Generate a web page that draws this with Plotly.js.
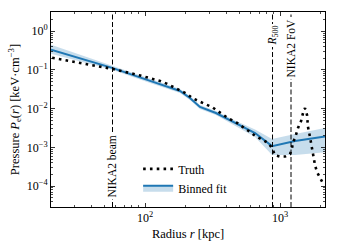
<!DOCTYPE html>
<html><head><meta charset="utf-8">
<script src="https://cdn.plot.ly/plotly-3.0.1.min.js"></script>
<style>html,body{margin:0;padding:0;background:#fff}#plot{width:343px;height:245px}</style>
</head><body><div id="plot"></div>
<script>
// Truth profile (kpc, keV cm^-3)
const truthRadius = [20.5, 33, 57, 92, 113, 129, 146, 161, 182, 205, 223, 247, 278, 313, 347, 412, 480, 532, 600, 653, 736, 815, 873, 918, 1000, 1089, 1186, 1227, 1248, 1292, 1359, 1432, 1480, 1531, 1585, 1611, 1668, 1726, 1754, 1816, 1880, 1977, 2047, 2118];
const truthPressure = [0.206, 0.153, 0.107, 0.072, 0.0588, 0.0522, 0.0437, 0.0365, 0.0305, 0.0240, 0.0189, 0.0158, 0.0132, 0.0111, 0.0087, 0.0057, 0.0043, 0.0034, 0.0025, 0.0020, 0.0016, 0.0013, 0.00096, 0.00063, 0.00058, 0.00058, 0.00067, 0.00096, 0.00137, 0.00174, 0.00316, 0.0048, 0.0077, 0.0104, 0.0069, 0.0034, 0.00185, 0.00096, 0.00056, 0.00035, 0.00023, 0.00016, 0.000126, 0.000105];

// Binned fit with its uncertainty envelope
const fitRadius = [20.1, 57, 109, 181.5, 215, 255, 335, 464, 653, 873, 1292, 2154];
const fitPressure = [0.332, 0.113, 0.0522, 0.0287, 0.0189, 0.01107, 0.00774, 0.00427, 0.00235, 0.00108, 0.00146, 0.00191];
const fitLower = [0.261, 0.1007, 0.0463, 0.0255, 0.0168, 0.00982, 0.0069, 0.00367, 0.00185, 0.000632, 0.000632, 0.000755];
const fitUpper = [0.447, 0.128, 0.0588, 0.0324, 0.0212, 0.01247, 0.00868, 0.00494, 0.00289, 0.00164, 0.00221, 0.00316];

// Reference radii marked by vertical lines
const markerNames = ['NIKA2 beam', '<i>R</i><sub>500</sub>', 'NIKA2 FoV'];
const markerRadius = [57.4, 880, 1206];
const markerLabelY = [0.205, 0.877, 0.813];

// Tick labels
const xTickVals = [100, 1000];
const xTickText = ['10<sup>2</sup>', '10<sup>3</sup>'];
const yTickVals = [1, 0.1, 0.01, 0.001, 0.0001];
const yTickText = ['10<sup>0</sup>', '10<sup>−1</sup>', '10<sup>−2</sup>', '10<sup>−3</sup>', '10<sup>−4</sup>'];

const serif = '"Liberation Serif", "DejaVu Serif", serif';
const blue = '#1f77b4';
const band = 'rgba(31,119,180,0.25)';

function minorVals(dMin, dMax) {
  const v = [];
  for (let d = dMin; d <= dMax; d++) for (let m = 2; m <= 9; m++) v.push(m * Math.pow(10, d));
  return v;
}

const traces = [
  {x: fitRadius, y: fitLower, type: 'scatter', mode: 'lines', line: {width: 0, color: band}, showlegend: false, hoverinfo: 'skip'},
  {x: fitRadius, y: fitPressure, type: 'scatter', mode: 'lines', name: 'Binned fit', fill: 'tonexty', fillcolor: band, line: {color: blue, width: 2}},
  {x: fitRadius, y: fitUpper, type: 'scatter', mode: 'lines', fill: 'tonexty', fillcolor: band, line: {width: 0, color: band}, showlegend: false, hoverinfo: 'skip'},
  {x: truthRadius, y: truthPressure, type: 'scatter', mode: 'lines', name: 'Truth', line: {color: 'black', width: 2.6, dash: '2.6px,4.2px'}}
];

const shapes = markerRadius.map(r => ({type: 'line', xref: 'x', yref: 'paper', x0: r, x1: r, y0: 0, y1: 1, line: {color: 'black', width: 1, dash: '5px,2.5px'}, layer: 'above'}));
const annotations = markerRadius.map((r, i) => ({x: Math.log10(r), y: markerLabelY[i], xref: 'x', yref: 'paper', xanchor: 'center', yanchor: 'middle', text: markerNames[i], showarrow: false, textangle: -90, bgcolor: 'white', borderpad: 1, font: {family: serif, size: 11.5, color: 'black'}}));

const axisCommon = {
  type: 'log', showgrid: false, zeroline: false, showline: true, linecolor: 'black', linewidth: 1, mirror: 'allticks',
  ticks: 'inside', ticklen: 4, tickwidth: 0.8, tickcolor: 'black', tickmode: 'array',
  tickfont: {family: serif, size: 12, color: 'black'}
};

const layout = {
  width: 343, height: 245,
  margin: {l: 51, r: 18, t: 12, b: 38},
  paper_bgcolor: 'white', plot_bgcolor: 'white',
  font: {family: serif, color: 'black'},
  showlegend: true,
  legend: {x: 0.318, y: 0.27, xanchor: 'left', yanchor: 'top', bgcolor: 'rgba(0,0,0,0)', font: {family: serif, size: 12, color: 'black'}, traceorder: 'reversed'},
  xaxis: Object.assign({}, axisCommon, {
    range: [Math.log10(20.1), Math.log10(2154)], tickvals: xTickVals, ticktext: xTickText,
    minor: {ticks: 'inside', ticklen: 2, tickwidth: 0.7, tickcolor: 'black', tickmode: 'array', tickvals: minorVals(1, 3), showgrid: false},
    title: {text: 'Radius <i>r</i> [kpc]', font: {family: serif, size: 12.5, color: 'black'}, standoff: 4}
  }),
  yaxis: Object.assign({}, axisCommon, {
    range: [-4.539, 0.497], tickvals: yTickVals, ticktext: yTickText,
    minor: {ticks: 'inside', ticklen: 2, tickwidth: 0.7, tickcolor: 'black', tickmode: 'array', tickvals: minorVals(-5, 0), showgrid: false},
    title: {text: 'Pressure <i>P</i><sub>e</sub>(<i>r</i>) [keV·cm<sup>−3</sup>]', font: {family: serif, size: 12.5, color: 'black'}, standoff: 4}
  }),
  shapes: shapes,
  annotations: annotations
};

Plotly.newPlot('plot', traces, layout, {displayModeBar: false, staticPlot: true});
</script>
</body></html>
